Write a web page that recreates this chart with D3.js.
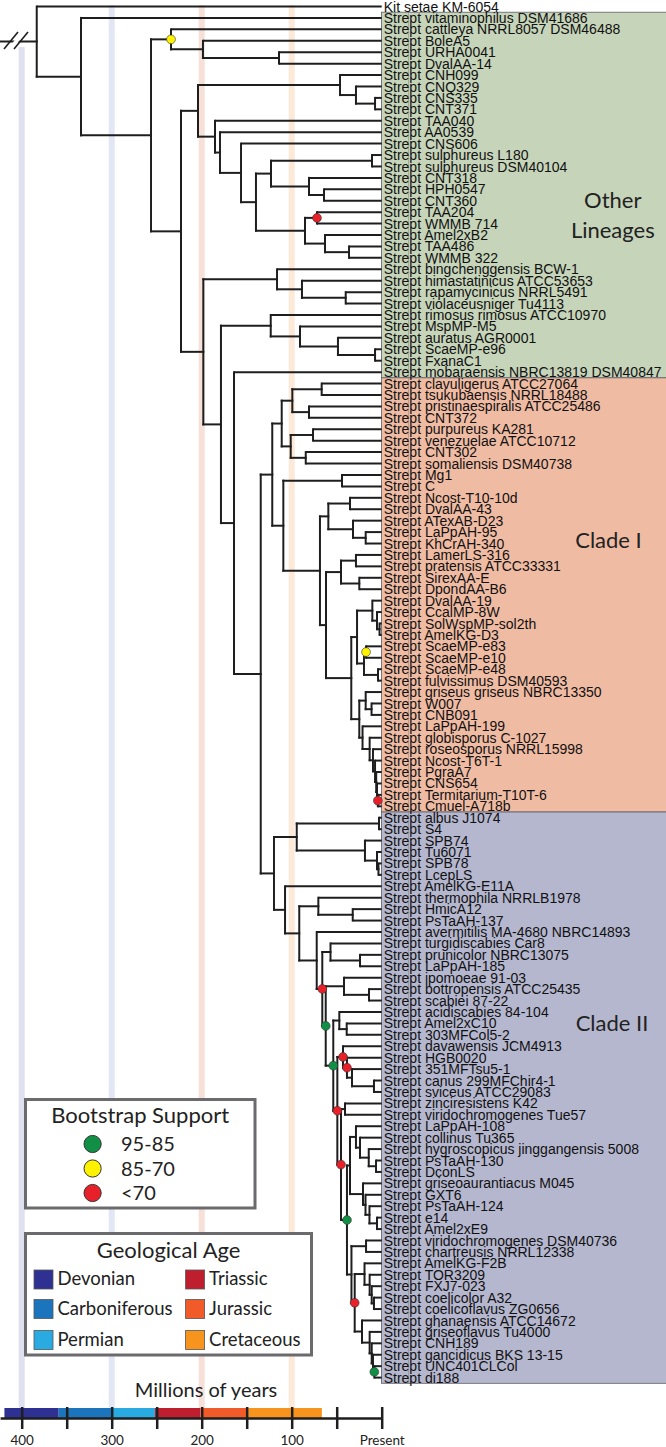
<!DOCTYPE html>
<html><head><meta charset="utf-8">
<script src="https://cdnjs.cloudflare.com/ajax/libs/d3/7.8.5/d3.min.js"></script>
<style>body{margin:0;background:#fff} svg{display:block}</style>
</head><body><svg id="c" width="666" height="1447"></svg>
<script>
// ---------------- DATA ----------------
const leafNames = [
"Kit setae KM-6054","Strept vitaminophilus DSM41686","Strept cattleya NRRL8057 DSM46488","Strept BoleA5","Strept URHA0041","Strept DvalAA-14",
"Strept CNH099","Strept CNQ329","Strept CNS335","Strept CNT371","Strept TAA040","Strept AA0539","Strept CNS606","Strept sulphureus L180",
"Strept sulphureus DSM40104","Strept CNT318","Strept HPH0547","Strept CNT360","Strept TAA204","Strept WMMB 714","Strept Amel2xB2","Strept TAA486",
"Strept WMMB 322","Strept bingchenggensis BCW-1","Strept himastatinicus ATCC53653","Strept rapamycinicus NRRL5491","Strept violaceusniger Tu4113",
"Strept rimosus rimosus ATCC10970","Strept MspMP-M5","Strept auratus AGR0001","Strept ScaeMP-e96","Strept FxanaC1","Strept mobaraensis NBRC13819 DSM40847",
"Strept clavuligerus ATCC27064","Strept tsukubaensis NRRL18488","Strept pristinaespiralis ATCC25486","Strept CNT372","Strept purpureus KA281",
"Strept venezuelae ATCC10712","Strept CNT302","Strept somaliensis DSM40738","Strept Mg1","Strept C","Strept Ncost-T10-10d","Strept DvalAA-43",
"Strept ATexAB-D23","Strept LaPpAH-95","Strept KhCrAH-340","Strept LamerLS-316","Strept pratensis ATCC33331","Strept SirexAA-E","Strept DpondAA-B6",
"Strept DvalAA-19","Strept CcalMP-8W","Strept SolWspMP-sol2th","Strept AmelKG-D3","Strept ScaeMP-e83","Strept ScaeMP-e10","Strept ScaeMP-e48",
"Strept fulvissimus DSM40593","Strept griseus griseus NBRC13350","Strept W007","Strept CNB091","Strept LaPpAH-199","Strept globisporus C-1027",
"Strept roseosporus NRRL15998","Strept Ncost-T6T-1","Strept PgraA7","Strept CNS654","Strept Termitarium-T10T-6","Strept Cmuel-A718b",
"Strept albus J1074","Strept S4","Strept SPB74","Strept Tu6071","Strept SPB78","Strept LcepLS","Strept AmelKG-E11A","Strept thermophila NRRLB1978",
"Strept HmicA12","Strept PsTaAH-137","Strept avermitilis MA-4680 NBRC14893","Strept turgidiscabies Car8","Strept prunicolor NBRC13075",
"Strept LaPpAH-185","Strept ipomoeae 91-03","Strept bottropensis ATCC25435","Strept scabiei 87-22","Strept acidiscabies 84-104","Strept Amel2xC10",
"Strept 303MFCol5-2","Strept davawensis JCM4913","Strept HGB0020","Strept 351MFTsu5-1","Strept canus 299MFChir4-1","Strept sviceus ATCC29083",
"Strept zinciresistens K42","Strept viridochromogenes Tue57","Strept LaPpAH-108","Strept collinus Tu365","Strept hygroscopicus jinggangensis 5008",
"Strept PsTaAH-130","Strept DconLS","Strept griseoaurantiacus M045","Strept GXT6","Strept PsTaAH-124","Strept e14","Strept Amel2xE9",
"Strept viridochromogenes DSM40736","Strept chartreusis NRRL12338","Strept AmelKG-F2B","Strept TOR3209","Strept FXJ7-023","Strept coelicolor A32",
"Strept coelicoflavus ZG0656","Strept ghanaensis ATCC14672","Strept griseoflavus Tu4000","Strept CNH189","Strept gancidicus BKS 13-15",
"Strept UNC401CLCol","Strept di188"];

const leafParents = [
"root","A","C","C2","C3","C3","E1","E1a","E1b","E1b","E2","E3","E4","E6s","E6s","E6b","E6c","E6c","E7a","E7a","E7b","E7c","E7c",
"F1","F1b","F1c","F1c","F2a","F2a2","F2a3","F2a4","F2a4","F2b",
"G1a1","G1a1","G1a2","G1a2","G1b1","G1b1","G1b2","G1b2","G2a","G2a","G3a","G3a","G3b","G3c","G3c","G4a1","G4a1","G4a2","G4a2",
"G5a","G5a1","G5a2","G5a2","G5b1","G5b1","G5b2","G5b2","G6a","G6a1","G6a1","G6b","G6c","G6d","G6e","G6f","G6g","G6h","G6h",
"H1a","H1a","H1b","H1c","H1d","H1d","H2","H3a","H3a1","H3a1","H3b","H4a","H4a1","H4a1","K1a","K1b","K1b","K2a","K2b","K2b",
"K3a","K3b","K3c","K3d","K3d","K4a","K4a","K5p","K5p1","K5p2","K5p3","K5p3","K5g","K5g1","K5g2","K5g3","K5g3","K6a","K6a",
"K7a","K7a1","K7a2","K7a3","K7a3","K7b","K7b1","K7b2","K7b3","K7b4","K7b4"];

// internal nodes: [id, parent, age (millions of years)]
const clades = [
["root",null,383.3],["A","root",334.1],["B","A",256.3],["C","B",234.1],["C2","C",198.6],["C3","C2",114.1],
["D","B",223.0],["E","D",204.1],["E1","E",46.3],["E1a","E1",28.6],["E1b","E1a",7.4],["E2","E",185.2],["E3","E2",179.7],
["E4","E3",156.3],["E5","E4",139.7],["E6","E5",123.0],["E6s","E6",10.8],["E6b","E6",80.8],["E6c","E6b",64.1],
["E7","E5",85.2],["E7a","E7",71.9],["E7b","E7",63.0],["E7c","E7b",36.3],
["F","D",198.2],["F1","F",116.3],["F1b","F1",88.6],["F1c","F1b",40.0],["F2","F",178.6],["F2a","F2",123.3],
["F2a2","F2a",90.8],["F2a3","F2a2",48.6],["F2a4","F2a3",7.4],["F2b","F2",164.1],["F3","F2b",134.4],
["G","F3",121.6],["G1","G",111.1],["G1a","G1",99.3],["G1a1","G1a",66.7],["G1a2","G1a",80.8],["G1b","G1",101.1],
["G1b1","G1b",76.3],["G1b2","G1b",84.4],["G2","G",109.3],["G2a","G2",44.1],["G2b","G2",68.6],["G3","G2b",59.3],
["G3a","G3",35.2],["G3b","G3",31.9],["G3c","G3b",17.8],["G4","G2b",61.9],["G4a","G4",45.2],["G4a1","G4a",28.6],
["G4a2","G4a",24.9],["G4b","G4",33.8],["G5","G4b",27.4],["G5a","G5",10.4],["G5a1","G5a",5.2],["G5a2","G5a1",2.4],
["G5b","G5",19.7],["G5b1","G5b",17.4],["G5b2","G5b",4.1],["G6","G4b",24.9],["G6a","G6",17.8],["G6a1","G6a",11.3],
["G6b","G6",21.3],["G6c","G6b",13.4],["G6d","G6c",9.7],["G6e","G6d",7.4],["G6f","G6e",6.1],["G6g","G6f",5.2],["G6h","G6g",4.3],
["H","F3",119.7],["H1","H",94.4],["H1a","H1",3.0],["H1b","H1",18.6],["H1c","H1b",5.2],["H1d","H1c",3.6],
["H2","H",107.4],["H3","H2",91.6],["H3a","H3",70.4],["H3a1","H3a",32.2],["H3b","H3",72.2],["H4","H3b",66.0],
["H4a","H4",56.9],["H4a1","H4a",24.1],["K1","H4",62.2],["K1a","K1",41.9],["K1b","K1a",14.1],["K2","K1",53.8],
["K2a","K2",47.1],["K2b","K2a",38.9],["K3","K2",49.3],["K3a","K3",43.0],["K3b","K3a",38.6],["K3c","K3b",33.0],
["K3d","K3c",8.6],["K4","K3",45.2],["K4a","K4",40.8],["K5","K4",38.6],["K5a","K5",35.2],["K5p","K5a",28.6],
["K5p1","K5p",24.1],["K5p2","K5p1",14.4],["K5p3","K5p2",6.3],["K5g","K5a",20.8],["K5g1","K5g",18.0],["K5g2","K5g1",13.6],
["K5g3","K5g2",5.2],["K6","K5",33.6],["K6a","K6",17.4],["K7","K6",30.0],["K7a","K7",19.1],["K7a1","K7a",13.4],
["K7a2","K7a1",11.1],["K7a3","K7a2",8.6],["K7b","K7",21.9],["K7b1","K7b",13.4],["K7b2","K7b1",11.1],["K7b3","K7b2",9.7],
["K7b4","K7b3",8.2]];

const supportClasses = ["95-85","85-70","<70"];
const supportNodes = [["C","85-70"],["E7a","<70"],["G5b1","85-70"],["G6h","<70"],["H4","<70"],["K1","95-85"],["K2","95-85"],
["K3","<70"],["K3a","<70"],["K3b","<70"],["K4","<70"],["K5","95-85"],["K7","<70"],["K7b4","95-85"]];

const periodNames = ["Devonian","Carboniferous","Permian","Triassic","Jurassic","Cretaceous"];
const periodStart = [419.2,358.9,298.9,251.9,201.3,148];
const periodEnd   = [358.9,298.9,251.9,201.3,148,66.5];
const axisTicks = [400,350,300,250,200,150,100,50,0];
const axisTickLabels = ["400","","300","","200","","100","","Present"];
const bandAges = [400,300,200,100];
const regionTitles = [["Other","Lineages"],["Clade I"],["Clade II"]];
const regionFirstLeaf = [1,33,71];
const regionLastLeaf = [32,70,120];

// ---------------- STYLE ----------------
const supportColor = {"95-85":"#119045","85-70":"#fff200","<70":"#e8202a"};
const periodColor = ["#2e3192","#1c75bc","#29aae1","#be1e2d","#f15a29","#f7941d"];
const bandColor = ["#dfe1f1","#e2e6f5","#f6e0d8","#fde9d7"];
const regionColor = ["#c6d4b9","#f0bba3","#b5b7cf"];
const ink = "#1e1e1e";
const labelFont = "'Liberation Sans', Arial, sans-serif";
const titleFont = "Lato, 'Open Sans', sans-serif";

const svg = d3.select("#c");
svg.append("rect").attr("width",666).attr("height",1447).attr("fill","#fff");

const x = d3.scaleLinear().domain([0,424]).range([381.7,0.1]);
const y = d3.scaleLinear().domain([0,120]).range([6.5,1377.6]);

// hierarchy
const rows = clades.map(c=>({id:c[0],parent:c[1],age:c[2]}))
  .concat(leafNames.map((n,i)=>({id:"L"+i,parent:leafParents[i],age:0,name:n,idx:i})));
const root = d3.stratify().id(d=>d.id).parentId(d=>d.parent)(rows);
root.eachAfter(n=>{
  n.px = x(n.data.age);
  if(!n.children) n.py = y(n.data.idx);
  else { const ys = n.children.map(c=>c.py); n.py = (d3.min(ys)+d3.max(ys))/2; }
});

// time bands
svg.append("g").selectAll("rect").data(bandAges).join("rect")
  .attr("x",d=>x(d)-3).attr("width",6)
  .attr("y",(d,i)=>i===0?47:5).attr("height",(d,i)=>1408-(i===0?47:5))
  .attr("fill",(d,i)=>bandColor[i]);

// clade regions
const rg = svg.append("g");
regionTitles.forEach((t,i)=>{
  const top = (y(regionFirstLeaf[i])+y(regionFirstLeaf[i]-1))/2;
  const bot = i<2 ? (y(regionLastLeaf[i])+y(regionLastLeaf[i]+1))/2 : y(regionLastLeaf[i])+5.7;
  rg.append("rect").attr("x",381.5).attr("y",top).attr("width",290).attr("height",bot-top)
    .attr("fill",regionColor[i]).attr("stroke","#5d5d66").attr("stroke-width",0.8);
});
rg.append("line").attr("x1",408.5).attr("x2",408.5).attr("y1",y(0.5)).attr("y2",y(120)+5.7)
  .attr("stroke","#7c7f8c").attr("stroke-width",0.8).attr("opacity",0.6);

// tree branches
const tg = svg.append("g").attr("stroke",ink).attr("stroke-width",2).attr("fill","none").attr("stroke-linecap","square");
root.each(n=>{
  if(n.children){
    const ys = n.children.map(c=>c.py);
    tg.append("line").attr("x1",n.px).attr("x2",n.px).attr("y1",d3.min(ys)).attr("y2",d3.max(ys));
  }
  const x0 = n.parent ? n.parent.px : 0;
  tg.append("line").attr("x1",x0).attr("x2",n.px).attr("y1",n.py).attr("y2",n.py)
    .attr("stroke-linecap", n.children ? "square" : "butt");
});
// break mark on root stem
svg.append("polygon").attr("points","8,49 20,33 25,33 13,49").attr("fill","#fff");
svg.append("g").attr("stroke",ink).attr("stroke-width",1.6)
  .selectAll("line").data([[4,49,18,32],[14,49,28,32]]).join("line")
  .attr("x1",d=>d[0]).attr("y1",d=>d[1]).attr("x2",d=>d[2]).attr("y2",d=>d[3]);

// support dots
const byId = new Map(root.descendants().map(n=>[n.id,n]));
svg.append("g").selectAll("circle").data(supportNodes).join("circle")
  .attr("cx",d=>byId.get(d[0]).px).attr("cy",d=>byId.get(d[0]).py).attr("r",4.4)
  .attr("fill",d=>supportColor[d[1]]).attr("stroke","#333").attr("stroke-width",0.6);

// leaf labels
svg.append("g").selectAll("text").data(root.leaves()).join("text")
  .attr("x",d=>d.px+2).attr("y",d=>d.py).attr("dy","0.36em")
  .attr("font-family",labelFont).attr("font-size",14).attr("fill","#111")
  .text(d=>d.data.name);

// region titles
const titlePos = [[612.8,[208.3,238]],[608.5,[548.3]],[612,[1030.7]]];
regionTitles.forEach((t,i)=>{
  t.forEach((s,j)=>{
    svg.append("text").attr("x",titlePos[i][0]).attr("y",titlePos[i][1][j]).attr("text-anchor","middle")
      .attr("font-family",titleFont).attr("font-size",22).attr("fill","#222").text(s);
  });
});

// Bootstrap legend
const lg1 = svg.append("g");
lg1.append("rect").attr("x",25.5).attr("y",1099.5).attr("width",229.5).attr("height",108.5)
  .attr("fill","#fff").attr("stroke","#6b6b6e").attr("stroke-width",3);
lg1.append("text").attr("x",140.2).attr("y",1122.5).attr("text-anchor","middle")
  .attr("font-family",titleFont).attr("font-size",22).attr("fill","#222").text("Bootstrap Support");
supportClasses.forEach((c,i)=>{
  const cy = 1144 + i*24.5;
  lg1.append("circle").attr("cx",92.6).attr("cy",cy).attr("r",8.6)
    .attr("fill",supportColor[c]).attr("stroke","#333").attr("stroke-width",1);
  lg1.append("text").attr("x",121).attr("y",cy+7).attr("font-family",titleFont).attr("font-size",20)
    .attr("fill","#222").text(c);
});

// Geological legend
const lg2 = svg.append("g");
lg2.append("rect").attr("x",25.5).attr("y",1233.5).attr("width",286).attr("height",121.5)
  .attr("fill","#fff").attr("stroke","#6b6b6e").attr("stroke-width",3);
lg2.append("text").attr("x",168.6).attr("y",1258.3).attr("text-anchor","middle")
  .attr("font-family",titleFont).attr("font-size",22).attr("fill","#222").text("Geological Age");
const rowTop = [1270,1299.5,1330.5];
periodNames.forEach((p,i)=>{
  const col = Math.floor(i/3), row = i%3;
  const sx = col===0 ? 34 : 185.6;
  lg2.append("rect").attr("x",sx).attr("y",rowTop[row]).attr("width",19).attr("height",19)
    .attr("fill",periodColor[i]).attr("stroke","#555").attr("stroke-width",0.8);
  lg2.append("text").attr("x",sx+23.5).attr("y",rowTop[row]+15.3).attr("font-family",titleFont)
    .attr("font-size",18.5).attr("fill","#222").text(p);
});

// time axis
svg.append("text").attr("x",206).attr("y",1396.7).attr("text-anchor","middle")
  .attr("font-family",titleFont).attr("font-size",20).attr("fill","#222").text("Millions of years");
svg.append("g").selectAll("rect").data(periodNames).join("rect")
  .attr("x",(d,i)=>x(periodStart[i])).attr("width",(d,i)=>x(periodEnd[i])-x(periodStart[i]))
  .attr("y",1408).attr("height",10).attr("fill",(d,i)=>periodColor[i]);
const ax = svg.append("g").attr("transform","translate(0,1418)")
  .call(d3.axisBottom(x).tickValues(axisTicks).tickFormat((d,i)=>axisTickLabels[i])
    .tickSize(11).tickSizeOuter(0).tickPadding(6));
ax.select(".domain").attr("stroke",ink).attr("stroke-width",2.5);
ax.selectAll(".tick line").attr("y1",-11).attr("stroke",ink).attr("stroke-width",2.5);
ax.selectAll(".tick text").attr("font-family",titleFont).attr("font-size",13.5).attr("fill","#222");
</script></body></html>
